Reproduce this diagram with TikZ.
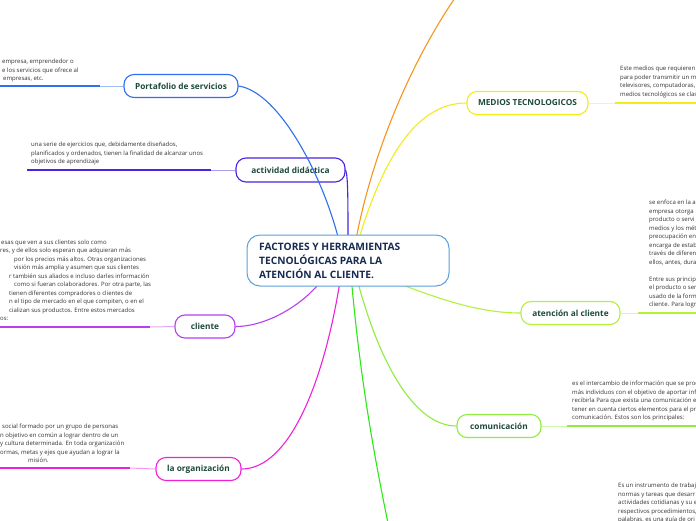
\documentclass[tikz,border=0pt]{standalone}
\usepackage{fontspec}
\setmainfont{Open Sans}
\definecolor{cBlue}{HTML}{2F6FF0}
\definecolor{cViolet}{HTML}{4B22E0}
\definecolor{cPurple}{HTML}{B640F0}
\definecolor{cMagenta}{HTML}{F020D8}
\definecolor{cYellow}{HTML}{F2EC1A}
\definecolor{cLime}{HTML}{B5F03A}
\definecolor{cComm}{HTML}{90EC40}
\definecolor{cGreen}{HTML}{2EE81A}
\definecolor{cOrange}{HTML}{F7941D}
\definecolor{cCenter}{HTML}{5C9FDC}
\definecolor{titleC}{HTML}{1C4A3A}
\definecolor{centerC}{HTML}{172A52}
\definecolor{descC}{HTML}{333333}
\begin{document}
\begin{tikzpicture}[x=1pt,y=-1pt,
  branch/.style={draw=#1, rounded corners=10pt, fill=white, line width=1.1pt,
    minimum height=23pt, inner sep=0pt, font=\fontsize{8.3}{10}\selectfont\bfseries, text=titleC},
  desc/.style={anchor=north west, inner sep=0pt, align=left,
    font=\fontsize{6}{8.5}\selectfont, text=descC},
  uline/.style={draw=#1, line width=1.8pt},
  link/.style={draw=#1!45, line width=1pt},
  conn/.style={draw=#1, line width=1.1pt}
]
\useasboundingbox (0,0) rectangle (696,520);
\clip (0,0) rectangle (696,520);
\fill[white] (0,0) rectangle (696,520);

% ---------- description texts
\node[desc] (dport) at (2,59) {empresa, emprendedor o\\e los servicios que ofrece al\\\hspace*{1pt}empresas, etc.};
\node[desc] (dact) at (31,142) {una serie de ejercicios que, debidamente diseñados,\\planificados y ordenados, tienen la finalidad de alcanzar unos\\objetivos de aprendizaje};
\node[desc] (dcli) at (0,239.5) {\hspace*{1pt}esas que ven a sus clientes solo como\\res, y de ellos solo esperan que adquieran más\\\hspace*{14pt}por los precios más altos. Otras organizaciones\\\hspace*{14pt}visión más amplia y asumen que sus clientes\\\hspace*{9pt}r también sus aliados e incluso darles información\\\hspace*{14pt}como si fueran colaboradores. Por otra parte, las\\\hspace*{9pt}tienen diferentes compradores o clientes de\\\hspace*{9pt}n el tipo de mercado en el que compiten, o en el\\\hspace*{9pt}cializan sus productos. Entre estos mercados\\os:};
\node[desc] (dorg) at (0,424) {\hspace*{2pt}social formado por un grupo de personas\\n objetivo en común a lograr dentro de un\\y cultura determinada. En toda organización\\ormas, metas y ejes que ayudan a lograr la\\\hspace*{28pt}misión.};
\node[desc] (dmed) at (620,66) {Este medios que requieren\\para poder transmitir un me\\televisores, computadoras,\\medios tecnológicos se clas};
\node[desc] (date) at (649,200) {se enfoca en la a\\empresa otorga\\producto o servi\\medios y los mét\\preocupación en\\encarga de estab\\través de diferen\\ellos, antes, dura\\[8.5pt]Entre sus princip\\el producto o ser\\usado de la form\\cliente. Para logr};
\node[desc] (dcom) at (572,381) {es el intercambio de información que se prod\\más individuos con el objetivo de aportar info\\recibirla Para que exista una comunicación e\\tener en cuenta ciertos elementos para el pr\\comunicación. Estos son los principales:};
\node[desc] (dbot) at (618,483) {Es un instrumento de trabaj\\normas y tareas que desarr\\actividades cotidianas y su e\\respectivos procedimientos,\\palabras, es una guía de ori};

% ---------- branch boxes
\node[branch=cBlue, minimum width=114pt] (port) at (181,86) {Portafolio de servicios};
\node[branch=cViolet, minimum width=109pt, minimum height=24pt] (act) at (290.5,170) {actividad didáctica};
\node[branch=cPurple, minimum width=60pt] (cli) at (205,326.5) {cliente};
\node[branch=cMagenta, minimum width=85pt] (org) at (198.5,469) {la organización};
\node[branch=cYellow, minimum width=121pt] (med) at (527.5,103) {MEDIOS TECNOLOGICOS};
\node[branch=cLime, minimum width=99pt] (ate) at (570.5,313) {atención al cliente};
\node[branch=cComm, minimum width=84pt] (com) at (499,426) {comunicación};

% ---------- underlines of descriptions
\coordinate (pl0) at (0,86);   \coordinate (pl1) at (100,86);
\coordinate (al0) at (27,170); \coordinate (al1) at (211,170);
\coordinate (cl0) at (0,327);  \coordinate (cl1) at (150,327);
\coordinate (ol0) at (0,468);  \coordinate (ol1) at (130,468);
\coordinate (ml0) at (615,103); \coordinate (ml1) at (696,103);
\coordinate (tl0) at (638,313); \coordinate (tl1) at (696,313);
\coordinate (kl0) at (567,426); \coordinate (kl1) at (696,426);
\draw[uline=cBlue] (pl0) -- (pl1);   \draw[link=cBlue] (pl1) -- (port.west);
\draw[uline=cViolet] (al0) -- (al1); \draw[link=cViolet] (al1) -- (act.west);
\draw[uline=cPurple] (cl0) -- (cl1); \draw[link=cPurple] (cl1) -- (cli.west);
\draw[uline=cMagenta] (ol0) -- (ol1); \draw[link=cMagenta] (ol1) -- (org.west);
\draw[link=cYellow] (med.east) -- (ml0); \draw[uline=cYellow] (ml0) -- (ml1);
\draw[link=cLime] (ate.east) -- (tl0); \draw[uline=cLime] (tl0) -- (tl1);
\draw[link=cComm] (com.east) -- (kl0); \draw[uline=cComm] (kl0) -- (kl1);

% ---------- connectors from the central topic
\coordinate (sOr) at (355,245);
\coordinate (sYe) at (357,245);
\coordinate (sBl) at (340,245);
\coordinate (sVi) at (348,245);
\coordinate (sPu) at (325,275);
\coordinate (sMa) at (341,275);
\coordinate (sGr) at (351,275);
\coordinate (sCo) at (356,275);
\coordinate (sLi) at (385,278);
\coordinate (eOr) at (462,-12);
\coordinate (eGr) at (389,528);
\draw[conn=cOrange] (sOr) .. controls (370,160) and (410,60) .. (eOr);
\draw[conn=cYellow] (sYe) .. controls (385,150) and (420,103) .. (med.west);
\draw[conn=cBlue] (sBl) .. controls (325,180) and (280,92) .. (port.east);
\draw[conn=cViolet] (act.east) .. controls (348,175) and (348,200) .. (sVi);
\draw[conn=cPurple] (sPu) .. controls (310,300) and (270,326.5) .. (cli.east);
\draw[conn=cMagenta] (sMa) .. controls (325,380) and (290,469) .. (org.east);
\draw[conn=cGreen] (sGr) .. controls (360,380) and (375,460) .. (eGr);
\draw[conn=cComm] (sCo) .. controls (375,350) and (410,426) .. (com.west);
\draw[conn=cLime] (sLi) .. controls (440,300) and (480,313) .. (ate.west);

% ---------- central topic
\node[draw=cCenter, fill=white, rounded corners=13pt, line width=1pt,
  minimum width=202pt, minimum height=51pt, inner sep=0pt] (ctr) at (348,260.5) {};
\node[anchor=west, inner sep=0pt, align=left, font=\fontsize{10.2}{13.7}\selectfont\bfseries,
  text=centerC] (ctrtext) at (259,261) {FACTORES Y HERRAMIENTAS\\TECNOLÓGICAS PARA LA\\ATENCIÓN AL CLIENTE.};
\end{tikzpicture}
\end{document}
